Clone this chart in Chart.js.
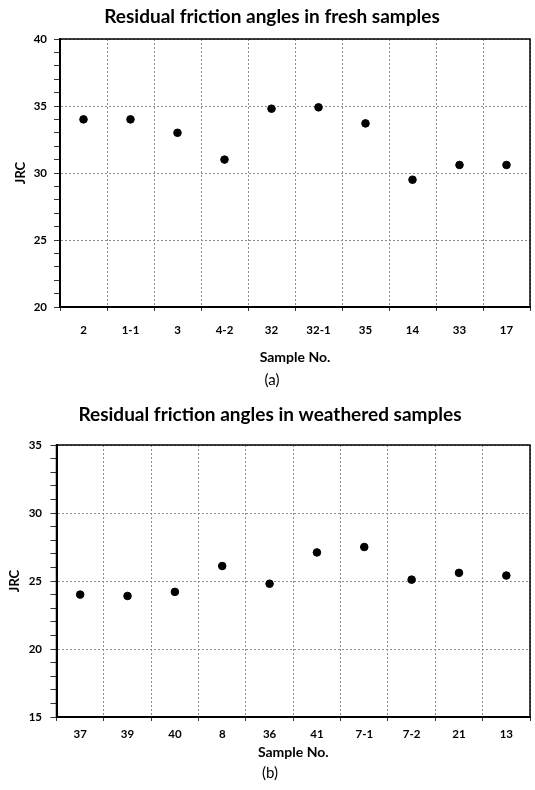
<!DOCTYPE html>
<html>
<head>
<meta charset="utf-8">
<title>Residual friction angles</title>
<script src="https://cdn.jsdelivr.net/npm/chart.js@4.4.1/dist/chart.umd.min.js"></script>
<style>
  html, body { margin: 0; padding: 0; background: #fff; }
  #wrapA { position: absolute; left: 0; top: 0; width: 535px; height: 393px; }
  #wrapB { position: absolute; left: 0; top: 393px; width: 535px; height: 397px; }
</style>
</head>
<body>
<div id="wrapA"><canvas id="chartA"></canvas></div>
<div id="wrapB"><canvas id="chartB"></canvas></div>
<script>
// (a) fresh samples
const freshSamples = ["2", "1-1", "3", "4-2", "32", "32-1", "35", "14", "33", "17"];
const freshJRC = [34.0, 34.0, 33.0, 31.0, 34.8, 34.9, 33.7, 29.5, 30.6, 30.6];
const freshRange = [20, 40];

// (b) weathered samples
const weatheredSamples = ["37", "39", "40", "8", "36", "41", "7-1", "7-2", "21", "13"];
const weatheredJRC = [24.0, 23.9, 24.2, 26.1, 24.8, 27.1, 27.5, 25.1, 25.6, 25.4];
const weatheredRange = [15, 35];

const FONT = "Lato, 'Open Sans', sans-serif";
const GRID = "#8c8c8c";

// black box round the plot area
const framePlugin = {
  id: "frame",
  afterDraw(chart) {
    const a = chart.chartArea;
    const c = chart.ctx;
    c.save();
    c.strokeStyle = "#000";
    c.lineWidth = 1.5;
    c.strokeRect(a.left, a.top, a.right - a.left, a.bottom - a.top);
    c.restore();
  }
};

function buildConfig(labels, values, range, title, caption, lay) {
  return {
    type: "line",
    data: {
      labels: labels,
      datasets: [{
        data: values,
        showLine: false,
        pointRadius: 3.8,
        pointBackgroundColor: "#000",
        pointBorderColor: "#000",
        borderColor: "#000"
      }]
    },
    options: {
      responsive: true,
      maintainAspectRatio: false,
      animation: false,
      layout: { padding: { left: lay.padLeft, right: lay.padRight, top: 0, bottom: 0 } },
      plugins: {
        legend: { display: false },
        tooltip: { enabled: false },
        title: {
          display: true,
          text: title,
          color: "#000",
          font: { family: FONT, size: 19, weight: "bold" },
          padding: { top: lay.titleTop, bottom: lay.titleBottom }
        },
        subtitle: {
          display: true,
          position: "bottom",
          text: caption,
          color: "#000",
          font: { family: FONT, size: 15, weight: "normal" },
          padding: { top: 0, bottom: lay.captionBottom }
        }
      },
      scales: {
        x: {
          type: "category",
          offset: true,
          grid: { offset: true, color: GRID, lineWidth: 1, tickLength: 4, tickColor: "#333" },
          border: { color: "#000", width: 2, dash: [2, 2] },
          ticks: { color: "#000", padding: lay.xTickPad, font: { family: FONT, size: 11.5, weight: "bold" } },
          title: {
            display: true,
            text: "Sample No.",
            color: "#000",
            font: { family: FONT, size: 14, weight: "bold" },
            padding: { top: 0, bottom: lay.xTitleBottom }
          },
          afterFit: function (s) { s.height = lay.xHeight; }
        },
        y: {
          min: range[0],
          max: range[1],
          ticks: {
            stepSize: 1,
            autoSkip: false,
            color: "#000",
            padding: lay.yTickPad,
            font: { family: FONT, size: 11.5, weight: "bold" },
            callback: function (v) { return v % 5 === 0 ? v : ""; }
          },
          grid: {
            color: function (ctx) {
              return ctx.tick && ctx.tick.value % 5 === 0 ? GRID : "rgba(0,0,0,0)";
            },
            lineWidth: 1,
            tickLength: 6,
            tickColor: "#333"
          },
          border: { color: "#000", width: 2, dash: [2, 2] },
          title: {
            display: true,
            text: "JRC",
            color: "#000",
            font: { family: FONT, size: 13, weight: "bold", lineHeight: 1 },
            padding: { top: 0, bottom: 0 }
          },
          afterFit: function (s) { s.width = lay.yWidth; }
        }
      }
    },
    plugins: [framePlugin]
  };
}

// Chart (a)
new Chart(document.getElementById("chartA"), buildConfig(
  freshSamples, freshJRC, freshRange,
  "Residual friction angles in fresh samples", "(a)",
  { padLeft: 14, padRight: 5, yWidth: 46, yTickPad: 7,
    titleTop: 5.2, titleBottom: 11, captionBottom: 4,
    xHeight: 64, xTickPad: 12, xTitleBottom: 5.6 }
));

// Chart (b)
new Chart(document.getElementById("chartB"), buildConfig(
  weatheredSamples, weatheredJRC, weatheredRange,
  "Residual friction angles in weathered samples", "(b)",
  { padLeft: 8.5, padRight: 3.5, yWidth: 48, yTickPad: 8.5,
    titleTop: 10.6, titleBottom: 18.6, captionBottom: 8,
    xHeight: 47, xTickPad: 6, xTitleBottom: 3.6 }
));
</script>
</body>
</html>
